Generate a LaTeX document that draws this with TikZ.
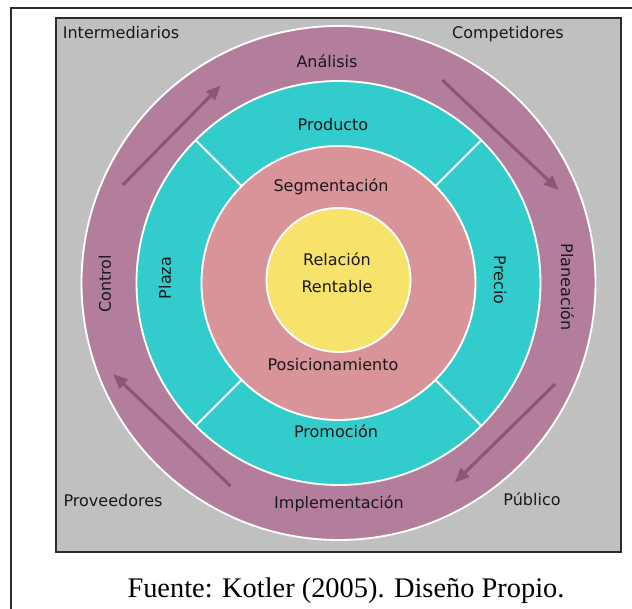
\documentclass[tikz,border=0pt]{standalone}
\usepackage{fontspec}
\setmainfont{Liberation Serif}
\newfontfamily\ringFont{DejaVu Sans}
\usepackage{xcolor}
\definecolor{lineDark}{HTML}{2B2B2B}
\definecolor{boxGrey}{HTML}{C0C0C0}
\definecolor{mauveColor}{HTML}{B37E9B}
\definecolor{tealColor}{HTML}{33CCCC}
\definecolor{pinkColor}{HTML}{D99499}
\definecolor{yellowColor}{HTML}{F7E36B}
\definecolor{arrowColor}{HTML}{8C5577}
\usetikzlibrary{arrows.meta,calc}
\tikzset{
  ringBand/.style={
    draw=white,
    line width=1.4pt
 },
  baseLabel/.style={
    font=\ringFont\fontsize{12}{20.25}\selectfont,
    text=black!90,
    inner sep=0pt
 },
  ringLabel/.style={
    baseLabel,
    text height=8.75pt,
    text depth=0pt
 },
  cycleArrow/.style={
    -{Triangle[length=11pt,width=9pt]},
    line width=2.3pt,
    color=arrowColor
 }
}

\begin{document}
\begin{tikzpicture}[x=0.75pt,y=0.75pt]

            \useasboundingbox (-338.5,-326) rectangle (293.5,283);

            % page frame
            \draw[lineDark, line width=1pt] (-327.5,-326) -- (-327.5,275) -- (293.5,275);

            % grey background
            \draw[lineDark, fill=boxGrey, line width=1.3pt] (-282.5,-269) rectangle (282.5,265);

            % outer ring
            \fill[mauveColor] (0,0) circle (257);
            \draw[ringBand] (0,0) circle (257);

            % middle ring with four parts
            \fill[tealColor] (0,0) circle (202);
            \draw[ringBand] (0,0) circle (202);
            \foreach \ang in {45,135,225,315}
              \draw[ringBand] (\ang:137) -- (\ang:202);

            % inner rings
            \fill[pinkColor] (0,0) circle (137);
            \draw[ringBand] (0,0) circle (137);
            \filldraw[ringBand, fill=yellowColor] (0,3) circle (72);

            % arrows round the outer ring
            \coordinate (tlTail) at (155.6:237);
            \coordinate (tlTip) at (120.8:230);
            \coordinate (trTail) at (62.9:228);
            \coordinate (trTip) at (22.9:239);
            \coordinate (brTail) at (-25:239);
            \coordinate (brTip) at (-59.8:231);
            \coordinate (blTail) at (-118:230);
            \coordinate (blTip) at (-158:243);
            \draw[cycleArrow] (tlTail) -- (tlTip);
            \draw[cycleArrow] (trTail) -- (trTip);
            \draw[cycleArrow] (brTail) -- (brTip);
            \draw[cycleArrow] (blTail) -- (blTip);

            % corner labels
            \node[ringLabel] (intermediarios) at (-217.5,250) {Intermediarios};
            \node[ringLabel] (competidores) at (169.5,250) {Competidores};
            \node[ringLabel] (proveedores) at (-225.5,-218) {Proveedores};
            \node[ringLabel] (publico) at (193.5,-217) {Público};

            % outer ring labels
            \node[ringLabel] (analisis) at (-11.5,221) {Análisis};
            \node[ringLabel, rotate=-90] (planeacion) at (228.5,-4) {Planeación};
            \node[ringLabel] (implementacion) at (0.5,-220) {Implementación};
            \node[ringLabel, rotate=90] (control) at (-233.5,-1) {Control};

            % middle ring labels
            \node[ringLabel] (producto) at (-5.5,158) {Producto};
            \node[ringLabel, rotate=-90] (precio) at (161.5,3) {Precio};
            \node[ringLabel] (promocion) at (-2.5,-149) {Promoción};
            \node[ringLabel, rotate=90] (plaza) at (-173.5,5) {Plaza};

            % inner labels
            \node[ringLabel] (segmentacion) at (-7.5,97) {Segmentación};
            \node[ringLabel] (posicionamiento) at (-5.5,-82) {Posicionamiento};
            \node[baseLabel, align=center] (relacion) at (-1.5,10) {Relación\\Rentable};

            % source line
            \node[anchor=base, inner sep=0pt, font=\fontsize{21.3}{24}\selectfont] (fuente) at (7.5,-315) {Fuente: Kotler (2005). Diseño Propio.};

        \end{tikzpicture}
\end{document}
